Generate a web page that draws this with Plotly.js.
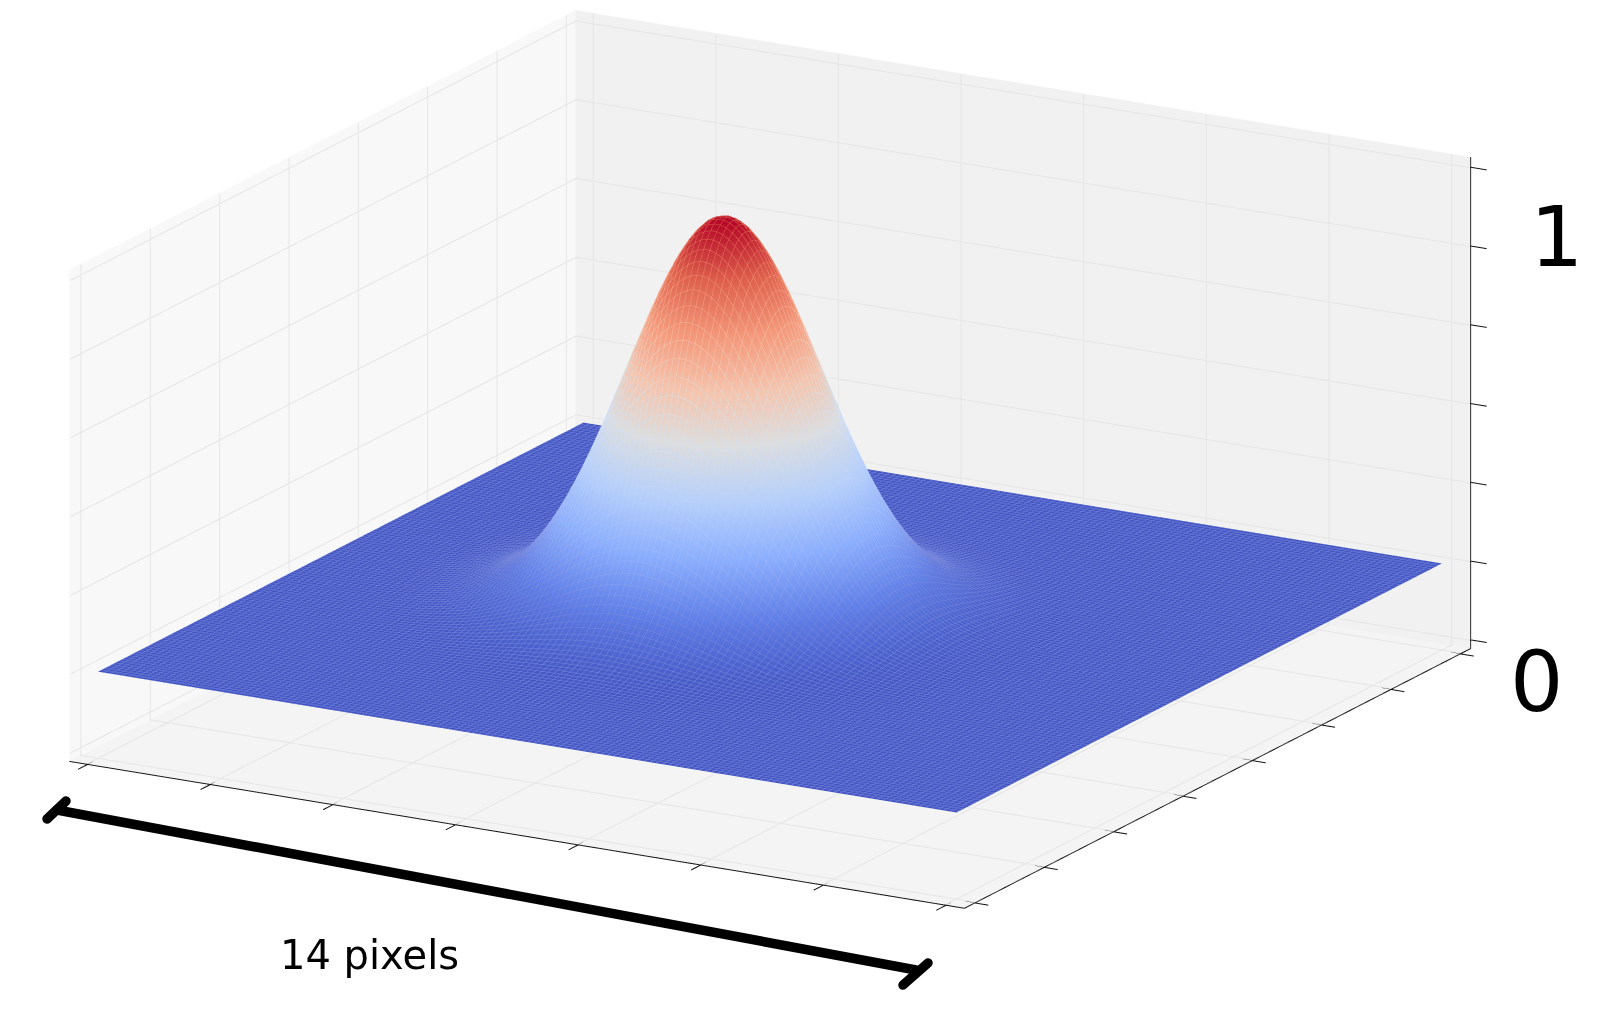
<!DOCTYPE html>
<html>
<head>
<meta charset="utf-8">
<script src="https://cdn.plot.ly/plotly-3.0.1.min.js"></script>
<style>
html,body{margin:0;padding:0;background:#fff}
#chart{width:1608px;height:1009px}
.shapelayer path{stroke-linecap:round}
</style>
</head>
<body>
<div id="chart"></div>
<script>
const xGrid = [-7,-6.75,-6.5,-6.25,-6,-5.75,-5.5,-5.25,-5,-4.75,-4.5,-4.25,-4,-3.75,-3.625,-3.5,-3.375,-3.25,-3.125,-3,-2.875,-2.75,-2.625,-2.5,-2.375,-2.25,-2.125,-2,-1.875,-1.75,-1.625,-1.5,-1.375,-1.25,-1.125,-1,-0.875,-0.75,-0.625,-0.5,-0.375,-0.25,-0.125,0,0.125,0.25,0.375,0.5,0.625,0.75,0.875,1,1.125,1.25,1.375,1.5,1.625,1.75,1.875,2,2.125,2.25,2.5,2.75,3,3.25,3.5,3.75,4,4.25,4.5,4.75,5,5.25,5.5,5.75,6,6.25,6.5,6.75,7];
const xProfile = [0,0.0001,0.0002,0.0004,0.0009,0.0017,0.0032,0.0057,0.01,0.0169,0.0277,0.0439,0.0676,0.1007,0.1214,0.1453,0.1724,0.203,0.2372,0.2749,0.316,0.3604,0.4079,0.4578,0.5099,0.5633,0.6174,0.6713,0.7241,0.7748,0.8226,0.8663,0.9052,0.9382,0.9648,0.9842,0.996,1,0.996,0.9842,0.9648,0.9382,0.9052,0.8663,0.8226,0.7748,0.7241,0.6713,0.6174,0.5633,0.5099,0.4578,0.4079,0.3604,0.316,0.2749,0.2372,0.203,0.1724,0.1453,0.1214,0.1007,0.0676,0.0439,0.0277,0.0169,0.01,0.0057,0.0032,0.0017,0.0009,0.0004,0.0002,0.0001,0,0,0,0,0,0,0];
const yGrid = [-7,-6.75,-6.5,-6.25,-6,-5.75,-5.5,-5.25,-5,-4.75,-4.5,-4.25,-4,-3.75,-3.5,-3.25,-3,-2.875,-2.75,-2.625,-2.5,-2.375,-2.25,-2.125,-2,-1.875,-1.75,-1.625,-1.5,-1.375,-1.25,-1.125,-1,-0.875,-0.75,-0.625,-0.5,-0.375,-0.25,-0.125,0,0.125,0.25,0.375,0.5,0.625,0.75,0.875,1,1.125,1.25,1.375,1.5,1.625,1.75,1.875,2,2.125,2.25,2.375,2.5,2.625,2.75,2.875,3,3.25,3.5,3.75,4,4.25,4.5,4.75,5,5.25,5.5,5.75,6,6.25,6.5,6.75,7];
const yProfile = [0,0,0,0,0.0001,0.0002,0.0004,0.0009,0.0017,0.0032,0.0057,0.01,0.0169,0.0277,0.0439,0.0676,0.1007,0.1214,0.1453,0.1724,0.203,0.2372,0.2749,0.316,0.3604,0.4079,0.4578,0.5099,0.5633,0.6174,0.6713,0.7241,0.7748,0.8226,0.8663,0.9052,0.9382,0.9648,0.9842,0.996,1,0.996,0.9842,0.9648,0.9382,0.9052,0.8663,0.8226,0.7748,0.7241,0.6713,0.6174,0.5633,0.5099,0.4578,0.4079,0.3604,0.316,0.2749,0.2372,0.203,0.1724,0.1453,0.1214,0.1007,0.0676,0.0439,0.0277,0.0169,0.01,0.0057,0.0032,0.0017,0.0009,0.0004,0.0002,0.0001,0,0,0,0];
const xyTicks = [-7,-5,-3,-1,1,3,5,7];
const zTicks = [-0.2,0,0.2,0.4,0.6,0.8,1];
const xyRange = [-7.3,7.3];
const zRange = [-0.222,1.026];
const intensity = yProfile.map(b => xProfile.map(a => a * b));
const coolwarm = [[0,'#4456c3'],[0.125,'#6282ea'],[0.25,'#8db0fe'],[0.375,'#b8d0f9'],[0.5,'#dddddd'],[0.625,'#f5c4ad'],[0.75,'#f4987a'],[0.875,'#de604d'],[1,'#b40426']];
const meshColors = [[0,'#7585da'],[0.125,'#9ab0f4'],[0.25,'#b6cfff'],[0.375,'#cfe0fa'],[0.5,'#dddddd'],[0.625,'#f5c4ad'],[0.75,'#f4987a'],[0.875,'#de604d'],[1,'#b40426']];

const [lo, hi] = xyRange, [zlo, zhi] = zRange;
const hidden = range => ({range, visible: false, showgrid: false, showline: false, zeroline: false, showbackground: false, showspikes: false, showticklabels: false, ticks: ''});
const flat = {ambient: 1, diffuse: 0, specular: 0, roughness: 1, fresnel: 0};
const wall = (x, y, z, color) => ({type:'surface', x, y, z, surfacecolor:[[0,0],[0,0]], cmin:0, cmax:1, colorscale:[[0,color],[1,color]], showscale:false, lighting:flat, hoverinfo:'skip'});

const lineStore = () => { const s = {x:[], y:[], z:[]}; s.seg = (a, b) => { s.x.push(a[0], b[0], null); s.y.push(a[1], b[1], null); s.z.push(a[2], b[2], null); }; return s; };

// pane grid
const grid = lineStore();
const gi = 0.02, gz = 0.002;
xyTicks.forEach(t => {
  grid.seg([t,lo,zlo+gz],[t,hi,zlo+gz]);
  grid.seg([lo,t,zlo+gz],[hi,t,zlo+gz]);
  grid.seg([t,hi-gi,zlo],[t,hi-gi,zhi]);
  grid.seg([lo+gi,t,zlo],[lo+gi,t,zhi]);
});
zTicks.forEach(t => { grid.seg([lo,hi-gi,t],[hi,hi-gi,t]); grid.seg([lo+gi,lo,t],[lo+gi,hi,t]); });

// axis lines and crossing ticks
const axes = lineStore();
axes.seg([lo,lo,zlo],[hi,lo,zlo]);
axes.seg([hi,lo,zlo],[hi,hi,zlo]);
axes.seg([hi,hi,zlo],[hi,hi,zhi]);
xyTicks.forEach(t => { axes.seg([t,lo-0.28,zlo],[t,lo+0.14,zlo]); axes.seg([hi-0.15,t,zlo],[hi+0.22,t,zlo]); });
zTicks.forEach(t => axes.seg([hi-0.13,hi,t],[hi+0.26,hi,t]));

const px = v => v / 1608, py = v => 1 - v / 1009;
const bar = (x0, y0, x1, y1) => ({type:'line', xref:'paper', yref:'paper', x0:px(x0), y0:py(y0), x1:px(x1), y1:py(y1), line:{color:'#000', width:9.5}});
const label = (x, y, text, size) => ({xref:'paper', yref:'paper', x:px(x), y:py(y), xanchor:'center', yanchor:'middle', text, showarrow:false, font:{family:'DejaVu Sans', size, color:'#000'}});
const d = 4;

Plotly.newPlot('chart', [
  wall([[lo,lo],[lo,lo]], [[lo,hi],[lo,hi]], [[zlo,zlo],[zhi,zhi]], '#f8f8f8'),
  wall([[lo,hi],[lo,hi]], [[hi,hi],[hi,hi]], [[zlo,zlo],[zhi,zhi]], '#f1f1f1'),
  wall([[lo,hi],[lo,hi]], [[lo,lo],[hi,hi]], [[zlo,zlo],[zlo,zlo]], '#f4f4f4'),
  {type:'scatter3d', mode:'lines', x:grid.x, y:grid.y, z:grid.z, connectgaps:false, line:{color:'#e6e6e6', width:2}, hoverinfo:'skip', showlegend:false},
  {type:'surface', x:xGrid, y:yGrid, z:intensity, colorscale:coolwarm, cmin:0, cmax:1, showscale:false, lighting:flat, hoverinfo:'skip'},
  {type:'surface', x:xGrid, y:yGrid, z:intensity, colorscale:meshColors, cmin:0, cmax:1, showscale:false, lighting:flat, hoverinfo:'skip',
   hidesurface:true,
   contours:{x:{show:true, start:-7, end:7, size:0.1, usecolormap:true, width:1}, y:{show:true, start:-7, end:7, size:0.1, usecolormap:true, width:1}}},
  {type:'scatter3d', mode:'lines', x:axes.x, y:axes.y, z:axes.z, connectgaps:false, line:{color:'#111', width:2}, hoverinfo:'skip', showlegend:false}
], {
  width: 1608, height: 1009, margin: {l:0, r:0, t:0, b:0}, paper_bgcolor: '#fff', showlegend: false,
  scene: {
    domain: {x:[0,0.958], y:[0.0882,1]},
    xaxis: hidden([-8,8]),
    yaxis: hidden([-8,8]),
    zaxis: hidden([-0.35,1.15]),
    aspectmode: 'manual', aspectratio: {x:2.45, y:2.45, z:1.342},
    camera: {eye: {x:0.492*0.957*d, y:-0.87*0.957*d, z:0.29*d}, center:{x:0,y:0,z:0}, up:{x:0,y:0,z:1}, projection:{type:'orthographic'}}
  },
  shapes: [bar(57,810,916,970), bar(47,819,66,801), bar(903,985,928,963)],
  annotations: [label(369,955,'14 pixels',40), label(1556,237,'1',84), label(1536,682,'0',84)]
}, {displayModeBar:false});
</script>
</body>
</html>
